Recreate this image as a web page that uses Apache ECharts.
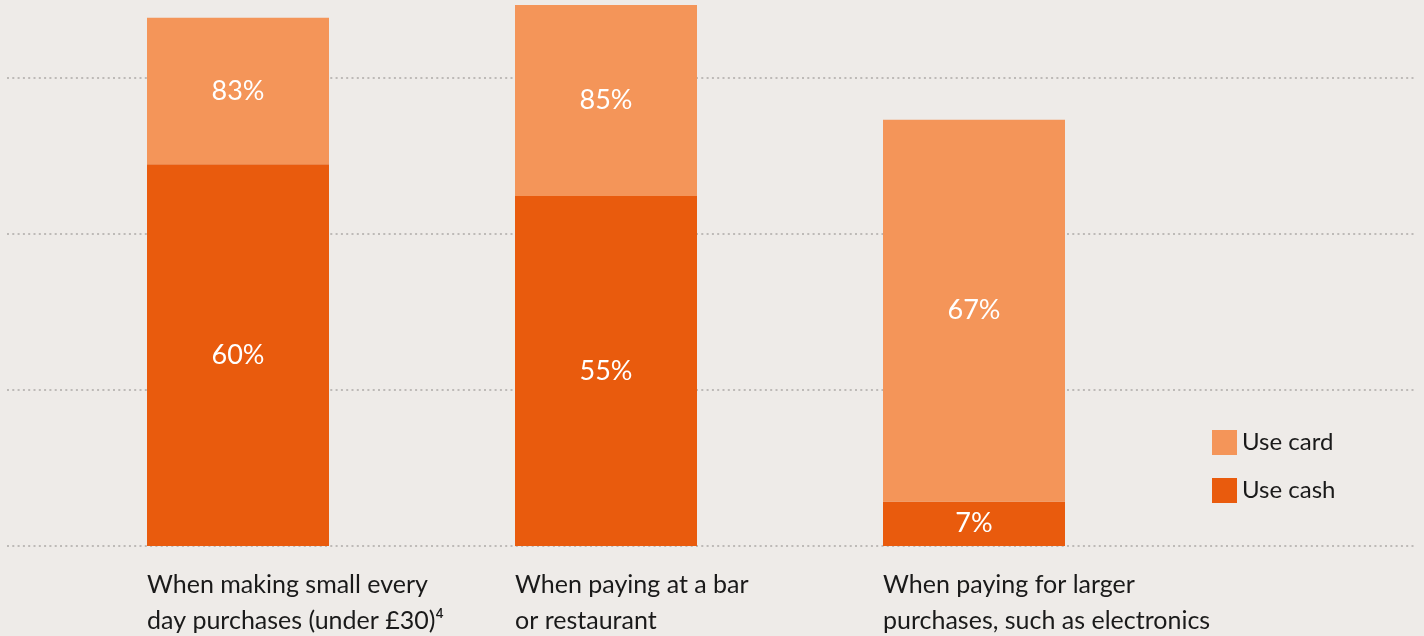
<!DOCTYPE html>
<html>
<head>
<meta charset="utf-8">
<script src="https://cdn.jsdelivr.net/npm/echarts@6/dist/echarts.min.js"></script>
<style>
  html, body { margin: 0; padding: 0; background: #EEEBE8; }
  #chart { width: 1424px; height: 636px; }
</style>
</head>
<body>
<div id="chart"></div>
<script>
const categories = [
  'When making small every\nday purchases (under £30)⁴',
  'When paying at a bar\nor restaurant',
  'When paying for larger\npurchases, such as electronics'
];
const useCash = [60, 55, 7];
const useCard = [83, 85, 67];

// the card bar sits behind the cash bar, so only the part above cash shows
const cardAbove = useCard.map((v, i) => v - useCash[i]);

const myChart = echarts.init(document.getElementById('chart'));

const hidden = { show: false };
const option = {
  backgroundColor: '#EEEBE8',
  textStyle: { fontFamily: 'Lato' },
  animation: false,
  grid: [
    // bars
    { left: 54, width: 1104, top: 0, bottom: 90, outerBoundsMode: 'none' },
    // category labels, shifted so they start at the bar's left edge
    { left: -37, width: 1104, top: 0, bottom: 90, outerBoundsMode: 'none' },
    // dotted guide lines across the whole width
    { left: 7, right: 9, top: 78, bottom: 90, outerBoundsMode: 'none' }
  ],
  legend: {
    orient: 'vertical',
    left: 1207,
    top: 425,
    itemWidth: 25,
    itemHeight: 25,
    itemGap: 23,
    icon: 'rect',
    data: ['Use card', 'Use cash'],
    textStyle: { color: '#1a1a1a', fontSize: 24, padding: [0, 0, 0, 0] }
  },
  xAxis: [
    {
      gridIndex: 0,
      type: 'category',
      data: categories,
      axisLine: hidden, axisTick: hidden, axisLabel: hidden
    },
    {
      gridIndex: 1,
      type: 'category',
      data: categories,
      axisLine: hidden, axisTick: hidden,
      axisLabel: {
        interval: 0,
        align: 'left',
        margin: 21,
        color: '#1a1a1a',
        fontSize: 25,
        lineHeight: 36
      }
    },
    { gridIndex: 2, type: 'value', min: 0, max: 1, show: false }
  ],
  yAxis: [
    { gridIndex: 0, type: 'value', min: 0, max: 85.8, show: false },
    { gridIndex: 1, type: 'value', min: 0, max: 85.8, show: false },
    {
      gridIndex: 2,
      type: 'value',
      min: 0,
      max: 73.5,
      interval: 24.5,
      axisLine: hidden, axisTick: hidden, axisLabel: hidden,
      splitLine: {
        show: true,
        lineStyle: { color: '#BDBAB7', width: 2, type: [2, 3.3] }
      }
    }
  ],
  series: [
    {
      name: 'Use cash',
      type: 'bar',
      stack: 'pay',
      barWidth: 182,
      data: useCash,
      itemStyle: { color: '#E95B0D' },
      label: {
        show: true,
        position: 'inside',
        color: '#fff',
        fontSize: 27,
        formatter: p => useCash[p.dataIndex] + '%'
      }
    },
    {
      name: 'Use card',
      type: 'bar',
      stack: 'pay',
      barWidth: 182,
      data: cardAbove,
      itemStyle: { color: '#F49559' },
      label: {
        show: true,
        position: 'inside',
        color: '#fff',
        fontSize: 27,
        formatter: p => useCard[p.dataIndex] + '%'
      }
    }
  ]
};

myChart.setOption(option);

window.addEventListener('resize', function () {
  myChart.resize();
});
</script>
</body>
</html>
